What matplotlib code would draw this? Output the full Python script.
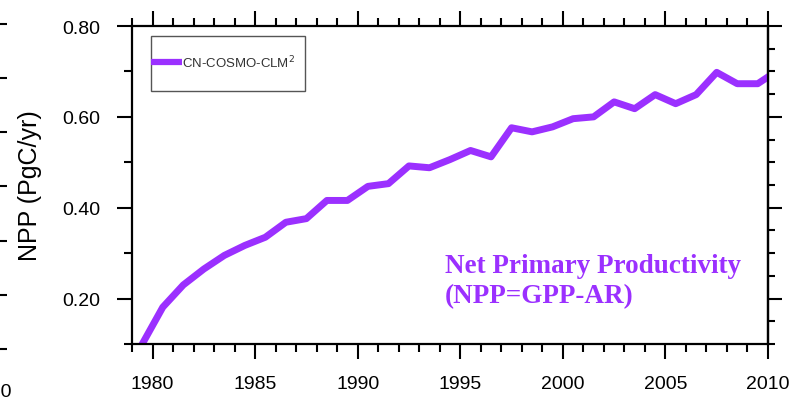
import matplotlib.pyplot as plt
import numpy as np
from matplotlib.patches import Rectangle
from matplotlib.ticker import FormatStrFormatter, MultipleLocator

# Annual NPP (PgC/yr), plotted at mid-year
years = np.arange(1979, 2011)
npp = [0.100, 0.181, 0.230, 0.265, 0.295, 0.317, 0.335, 0.368, 0.376, 0.416,
       0.416, 0.447, 0.453, 0.492, 0.488, 0.506, 0.526, 0.512, 0.576, 0.567,
       0.578, 0.596, 0.600, 0.633, 0.618, 0.649, 0.629, 0.649, 0.698, 0.673,
       0.673, 0.703]

series_label = "CN-COSMO-CLM$^2$"
note = "Net Primary Productivity\n(NPP=GPP-AR)"
ylabel = "NPP (PgC/yr)"
purple = "#9b30ff"

plt.rcParams["font.family"] = ["Liberation Sans", "DejaVu Sans"]

fig = plt.figure(figsize=(8, 4.02), dpi=100)
ax = fig.add_axes([0.165, 0.1418, 0.795, 0.791])

ax.plot(years + 0.5, npp, color=purple, lw=5, solid_joinstyle="round")

ax.set_xlim(1979, 2010)
ax.set_ylim(0.1, 0.8)
ax.set_xticks(np.arange(1980, 2011, 5))
ax.xaxis.set_minor_locator(MultipleLocator(1))
ax.set_yticks([0.2, 0.4, 0.6, 0.8])
ax.set_yticks([0.1, 0.3, 0.5, 0.7], minor=True)
ax.yaxis.set_major_formatter(FormatStrFormatter("%.2f"))

for s in ax.spines.values():
    s.set_linewidth(1.6)

ax.tick_params(which="both", direction="out", top=True, width=1.5, labelsize=14)
ax.tick_params(which="major", length=11)
ax.tick_params(which="minor", length=6)
ax.tick_params(axis="y", pad=12)
ax.tick_params(axis="x", pad=11)

# right axis has finer minor ticks
sec = ax.secondary_yaxis("right")
sec.set_yticks([0.2, 0.4, 0.6, 0.8])
sec.yaxis.set_minor_locator(MultipleLocator(0.05))
sec.tick_params(which="both", direction="out", width=1.5, labelright=False)
sec.tick_params(which="major", length=10)
sec.tick_params(which="minor", length=5)
sec.spines["right"].set_linewidth(1.6)

ax.set_ylabel(ylabel, fontsize=18)
ax.yaxis.set_label_coords(-0.1415, 0.5)

# legend box
ax.add_patch(Rectangle((0.030, 0.7956), 0.242, 0.173, transform=ax.transAxes,
                       fill=False, ec="#555555", lw=1, zorder=5))
ax.plot([0.030, 0.079], [0.887, 0.887], transform=ax.transAxes, color=purple,
        lw=4.5, solid_capstyle="butt", zorder=5)
ax.text(0.079, 0.887, series_label, transform=ax.transAxes, va="center",
        fontsize=9.5, color="#333333", zorder=5)

ax.text(0.492, 0.287, note, transform=ax.transAxes, family=["Liberation Serif"],
        weight="bold", size=19.5, color=purple, va="top", linespacing=1.3)

# edge of the neighbouring panel, cut off on the left
gx = fig.add_axes([-0.3128, 0.1294, 0.3, 0.8085])
gx.set_xlim(1979, 2010)
gx.set_xticks([2010])
gx.set_ylim(0, 6)
gx.set_yticks(range(7))
gx.tick_params(direction="out", left=False, labelleft=False, right=True,
               length=12.5, width=1.5, labelsize=14, pad=12)

fig.savefig("out.png", dpi=100)
